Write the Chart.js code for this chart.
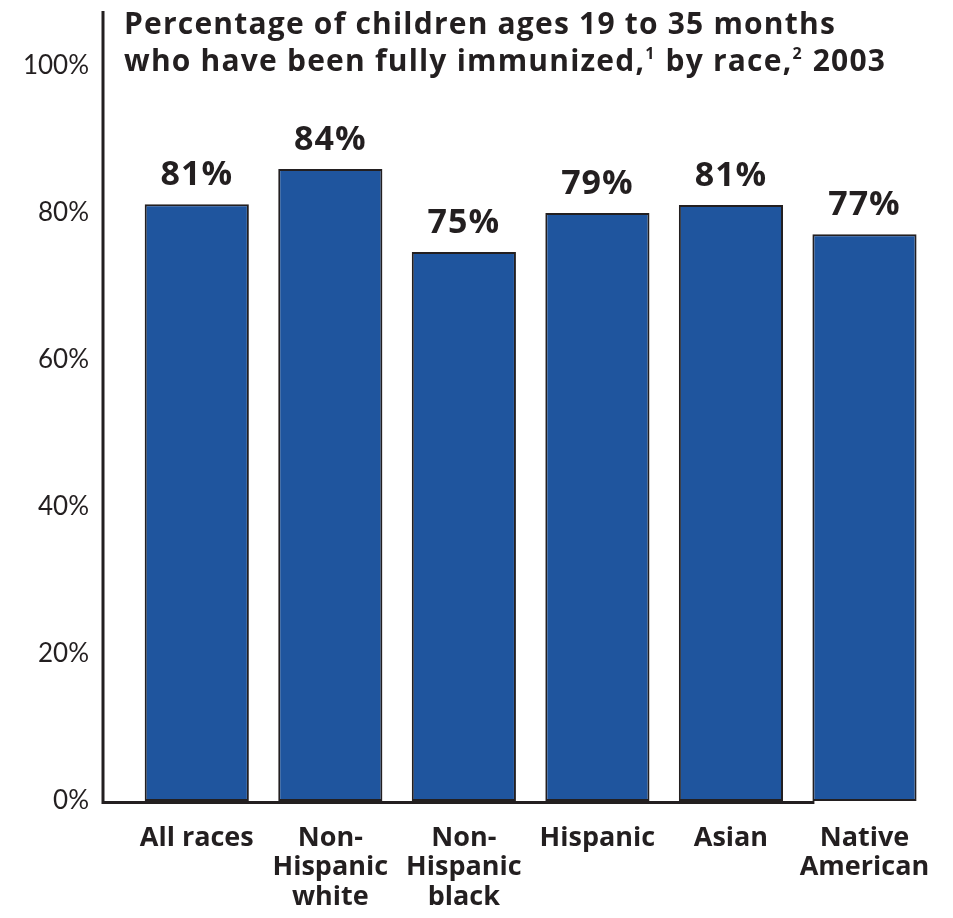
<!DOCTYPE html>
<html>
<head>
<meta charset="utf-8">
<script src="https://cdn.jsdelivr.net/npm/chart.js@4"></script>
<style>
    html, body { margin: 0; padding: 0; background: #fff; }
    canvas { display: block; }
</style>
</head>
<body>
<canvas id="immunizationChart" width="953" height="918"></canvas>
<script>
// Data
const categories = [
    ['All races'],
    ['Non-', 'Hispanic', 'white'],
    ['Non-', 'Hispanic', 'black'],
    ['Hispanic'],
    ['Asian'],
    ['Native', 'American']
];
// bar heights as drawn in the reference
const barValues = [81.2, 86, 74.7, 80, 81.1, 77.1];
// percentages printed above the bars
const valueLabels = ['81%', '84%', '75%', '79%', '81%', '77%'];
const yTicks = [0, 20, 40, 60, 80, 100];

const titleLine1 = 'Percentage of children ages 19 to 35 months';
const titleLine2 = [
    { text: 'who have been fully immunized,' },
    { text: '1', sup: true },
    { text: ' by race,' },
    { text: '2', sup: true },
    { text: ' 2003' }
];

const INK = '#231f20';
const BAR_BLUE = '#1f559e';
const BOLD_FONT = '"Open Sans", Lato, sans-serif';
const TICK_FONT = 'Lato, "Open Sans", sans-serif';

document.addEventListener('DOMContentLoaded', function() {
    // Axis lines, value labels and title
    const chromePlugin = {
        id: 'chrome',
        beforeDatasetsDraw(chart) {
            const ctx = chart.ctx;
            const area = chart.chartArea;
            const zeroY = chart.scales.y.getPixelForValue(0);
            const axisX = area.left - 27;
            const lastBar = chart.getDatasetMeta(0).data[categories.length - 1];
            ctx.save();
            ctx.strokeStyle = INK;
            ctx.lineWidth = 3;
            ctx.beginPath();
            ctx.moveTo(axisX, 11);
            ctx.lineTo(axisX, zeroY + 3);
            ctx.moveTo(axisX - 1.5, zeroY + 1.5);
            ctx.lineTo(lastBar.x - lastBar.width / 2 + 2, zeroY + 1.5);
            ctx.stroke();
            ctx.restore();
        },
        afterDatasetsDraw(chart) {
            const ctx = chart.ctx;
            const meta = chart.getDatasetMeta(0);
            ctx.save();
            ctx.fillStyle = INK;
            ctx.font = 'bold 34px ' + BOLD_FONT;
            ctx.letterSpacing = '1px';
            ctx.textAlign = 'center';
            ctx.textBaseline = 'alphabetic';
            meta.data.forEach((bar, i) => {
                ctx.fillText(valueLabels[i], bar.x, bar.y - 19);
            });
            ctx.restore();
        },
        afterDraw(chart) {
            const ctx = chart.ctx;
            const x0 = chart.chartArea.left - 6;
            ctx.save();
            ctx.fillStyle = INK;
            ctx.textAlign = 'left';
            ctx.textBaseline = 'alphabetic';
            ctx.letterSpacing = '1.2px';
            ctx.font = 'bold 30px ' + BOLD_FONT;
            ctx.fillText(titleLine1, x0, 34);
            let x = x0;
            titleLine2.forEach(part => {
                ctx.font = (part.sup ? 'bold 16px ' : 'bold 30px ') + BOLD_FONT;
                ctx.fillText(part.text, x, part.sup ? 59 : 71);
                x += ctx.measureText(part.text).width + (part.sup ? 1 : 0);
            });
            ctx.restore();
        }
    };

    const ctx = document.getElementById('immunizationChart').getContext('2d');
    const immunizationChart = new Chart(ctx, {
        type: 'bar',
        data: {
            labels: categories,
            datasets: [{
                data: barValues,
                backgroundColor: BAR_BLUE,
                borderColor: INK,
                borderWidth: 2,
                borderSkipped: false,
                categoryPercentage: 1,
                barPercentage: 0.78
            }]
        },
        options: {
            responsive: false,
            animation: false,
            layout: {
                padding: { top: 66, right: 21, bottom: 0, left: 0 }
            },
            plugins: {
                legend: { display: false },
                tooltip: { enabled: false },
                title: { display: false }
            },
            scales: {
                x: {
                    grid: { display: false, drawTicks: false },
                    border: { display: false },
                    ticks: {
                        color: INK,
                        padding: 22,
                        maxRotation: 0,
                        autoSkip: false,
                        font: { family: BOLD_FONT, size: 27, weight: 'bold', lineHeight: 1.1 }
                    },
                    afterFit(scale) {
                        scale.height = 117;
                    }
                },
                y: {
                    min: 0,
                    max: 100,
                    grid: { display: false, drawTicks: false },
                    border: { display: false },
                    afterBuildTicks(scale) {
                        scale.ticks = yTicks.map(v => ({ value: v }));
                    },
                    afterFit(scale) {
                        scale.width = 130;
                    },
                    ticks: {
                        color: INK,
                        padding: 41,
                        font: { family: TICK_FONT, size: 26, weight: 'normal' },
                        callback: function(value) {
                            return value + '%';
                        }
                    }
                }
            }
        },
        plugins: [chromePlugin]
    });
});
</script>
</body>
</html>
